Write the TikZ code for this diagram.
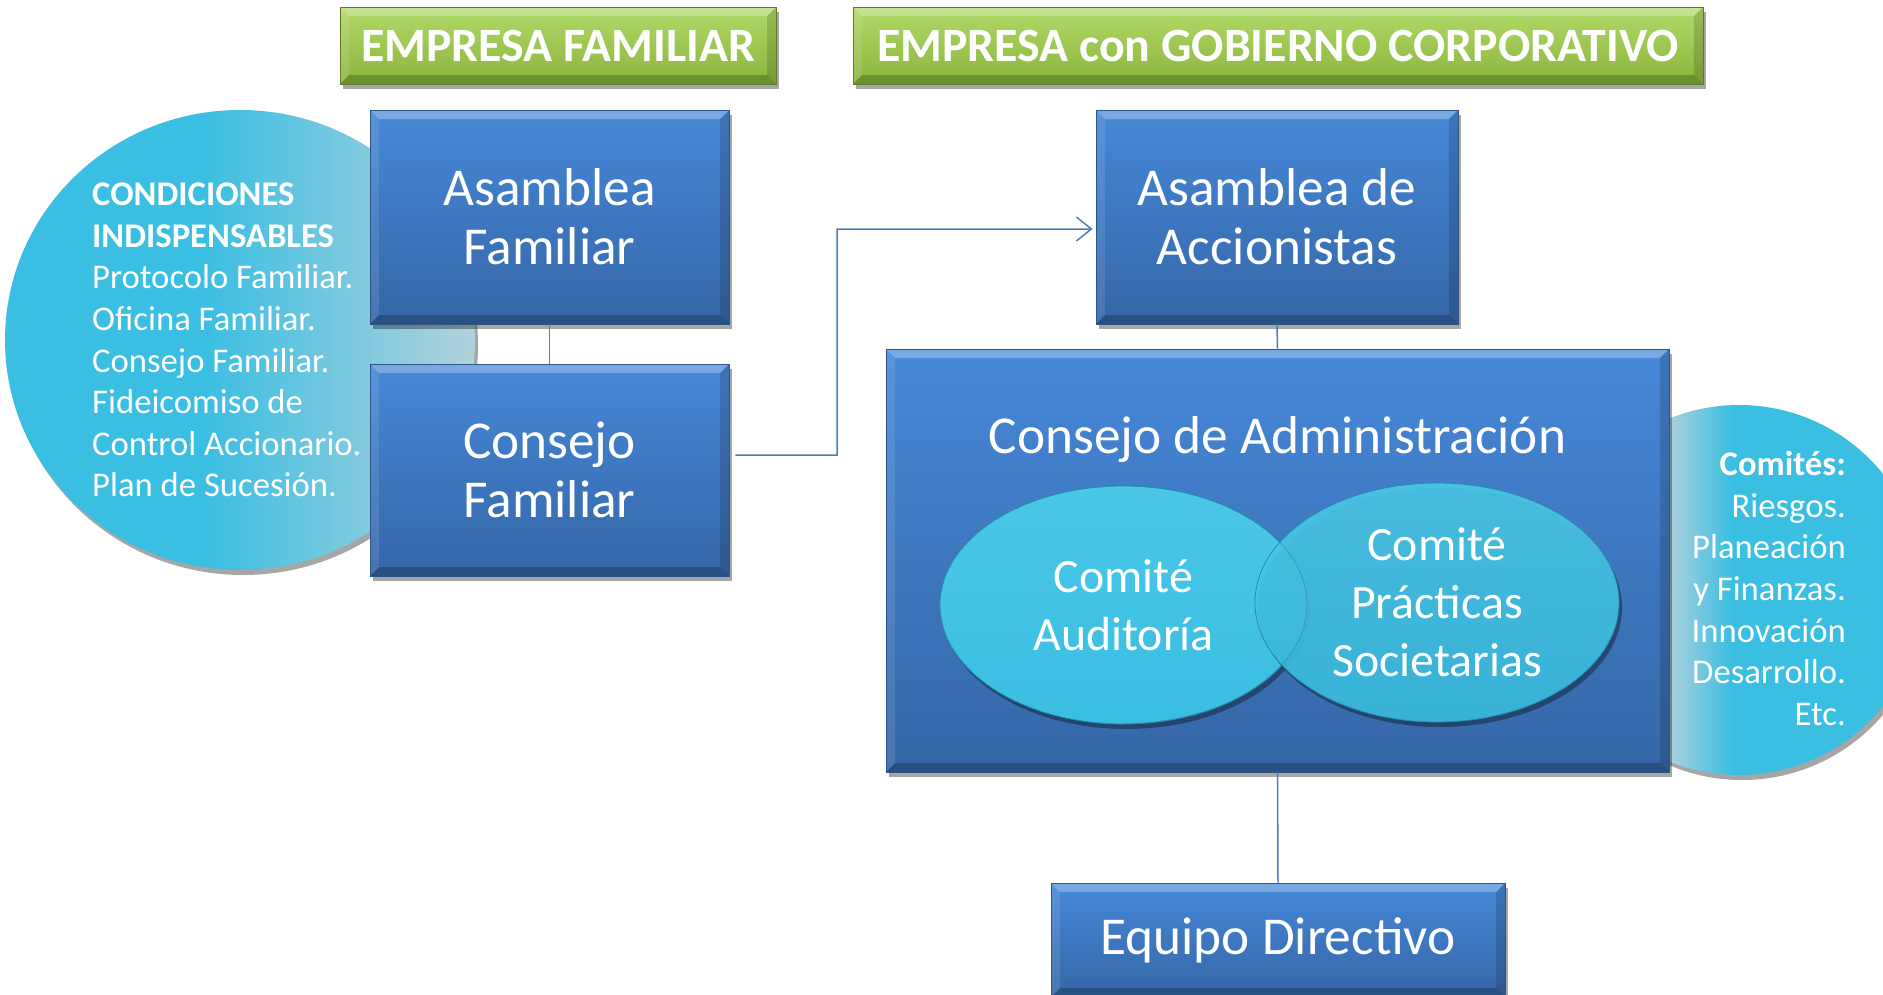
\documentclass[tikz,border=0pt]{standalone}
\usepackage{fontspec}
\setmainfont{Carlito}
\usetikzlibrary{shapes.geometric,shadows,arrows.meta,calc}
\definecolor{boxtop}{RGB}{70,136,216}
\definecolor{boxbot}{RGB}{53,102,167}
\definecolor{boxline}{RGB}{45,85,140}
\definecolor{grtop}{RGB}{178,217,104}
\definecolor{grbot}{RGB}{137,181,60}
\definecolor{grline}{RGB}{95,125,40}
\definecolor{cyanC}{RGB}{58,190,226}
\definecolor{cyanL}{RGB}{74,199,232}
\definecolor{cyanD}{RGB}{38,140,172}
\definecolor{paleC}{RGB}{178,210,220}
\definecolor{conn}{RGB}{74,126,187}
\pgfdeclarehorizontalshading{lcshade}{100bp}{color(0bp)=(cyanC); color(46bp)=(cyanC); color(75bp)=(paleC); color(100bp)=(paleC)}
\pgfdeclarehorizontalshading{rcshade}{100bp}{color(0bp)=(paleC); color(40bp)=(paleC); color(49bp)=(cyanC); color(100bp)=(cyanC)}
\newcommand\bevelpic{%
  \fill[white,opacity=0.28] (path picture bounding box.north west) -- (path picture bounding box.north east) -- ([shift={(-9bp,-9bp)}]path picture bounding box.north east) -- ([shift={(9bp,-9bp)}]path picture bounding box.north west) -- cycle;
  \fill[black,opacity=0.22] (path picture bounding box.south west) -- (path picture bounding box.south east) -- ([shift={(-9bp,9bp)}]path picture bounding box.south east) -- ([shift={(9bp,9bp)}]path picture bounding box.south west) -- cycle;
  \fill[white,opacity=0.10] (path picture bounding box.north west) -- ([shift={(9bp,-9bp)}]path picture bounding box.north west) -- ([shift={(9bp,9bp)}]path picture bounding box.south west) -- (path picture bounding box.south west) -- cycle;
  \fill[black,opacity=0.14] (path picture bounding box.north east) -- ([shift={(-9bp,-9bp)}]path picture bounding box.north east) -- ([shift={(-9bp,9bp)}]path picture bounding box.south east) -- (path picture bounding box.south east) -- cycle;
}
\tikzset{
  x=1bp, y=-1bp,
  shadowed/.style={drop shadow={shadow xshift=3bp, shadow yshift=-5bp, opacity=0.35, fill=black}},
  bluebox/.style={rectangle, draw=boxline, line width=0.8bp, top color=boxtop, bottom color=boxbot,
    text=white, align=center, font=\fontsize{53.5}{59}\selectfont, inner sep=0pt, shadowed,
    path picture={\bevelpic}},
  greenbox/.style={rectangle, draw=grline, line width=1bp, top color=grtop, bottom color=grbot,
    text=white, align=center, font=\fontsize{48}{56}\selectfont\bfseries, inner sep=0pt, shadowed,
    path picture={\bevelpic}},
  comite/.style={ellipse, draw=cyanD, line width=0.8bp, top color=cyanL, bottom color=cyanC,
    text=white, align=center, font=\fontsize{48}{58}\selectfont, inner sep=0pt, shadowed},
  bigtext/.style={text=white, align=center, font=\fontsize{53.5}{59}\selectfont, inner sep=0pt},
  smalltext/.style={text=white, font=\fontsize{34.8}{41.7}\selectfont, inner sep=0pt},
  connector/.style={draw=conn, line width=1.5bp},
}
\begin{document}
\begin{tikzpicture}
\useasboundingbox (0,0) rectangle (1883,994);

% headings
\node[greenbox, minimum width=436bp, minimum height=77bp] (ef) at (558,45.5) {EMPRESA FAMILIAR};
\node[greenbox, minimum width=850bp, minimum height=77bp] (eg) at (1278,45.5) {EMPRESA con GOBIERNO CORPORATIVO};

% left circle (behind boxes)
\node[ellipse, minimum width=470bp, minimum height=460bp, shading=lcshade, inner sep=0pt, shadowed] (lc) at (240,340) {};
\node[smalltext, align=left, anchor=west] (lctext) at (92,340)
  {\textbf{CONDICIONES}\\\textbf{INDISPENSABLES}\\Protocolo Familiar.\\Oficina Familiar.\\Consejo Familiar.\\Fideicomiso de\\Control Accionario.\\Plan de Sucesión.};

% right circle (behind board box)
\node[circle, minimum size=370bp, shading=rcshade, inner sep=0pt, shadowed] (rc) at (1739,590) {};
\node[smalltext, align=right, anchor=east] (rctext) at (1846,588.5)
  {\textbf{Comités:}\\Riesgos.\\Planeación\\y Finanzas.\\Innovación\\Desarrollo.\\Etc.};

% family boxes
\node[bluebox, minimum width=359bp, minimum height=214bp] (af) at (549.5,217) {Asamblea\\Familiar};
\node[bluebox, minimum width=359bp, minimum height=212bp] (cf) at (549.5,470) {Consejo\\Familiar};

% corporate boxes
\node[bluebox, minimum width=362bp, minimum height=214bp] (aa) at (1277,217) {Asamblea de\\Accionistas};
\node[bluebox, minimum width=783bp, minimum height=423bp] (ca) at (1277.5,560.5) {};
\node[bigtext] (catext) at (1277.5,440) {Consejo de Administración};
\node[comite, minimum width=367bp, minimum height=238bp] (cau) at (1123.5,605) {Comité\\Auditoría};
\node[comite, minimum width=364bp, minimum height=239bp, fill opacity=0.9, text opacity=1] (cps) at (1437,602.5) {Comité\\Prácticas\\Societarias};
\draw[cyanD, line width=0.8bp, opacity=0.6] (cau.north) arc[start angle=90, end angle=-90, x radius=183.5bp, y radius=119bp];
\node[bluebox, minimum width=454bp, minimum height=114bp] (eq) at (1278,940) {Equipo Directivo};

% connectors
\draw[connector] (af.south) -- (cf.north);
\coordinate (bend) at (837,229);
\draw[connector, -{Straight Barb[length=15bp, width=24bp, line width=1.5bp]}]
  ([xshift=6bp,yshift=15bp]cf.east) -| (bend) -- ([xshift=-3bp,yshift=-12bp]aa.west);
\draw[connector] (aa.south) -- (ca.north);
\draw[connector] (ca.south) -- (eq.north);
\end{tikzpicture}
\end{document}
